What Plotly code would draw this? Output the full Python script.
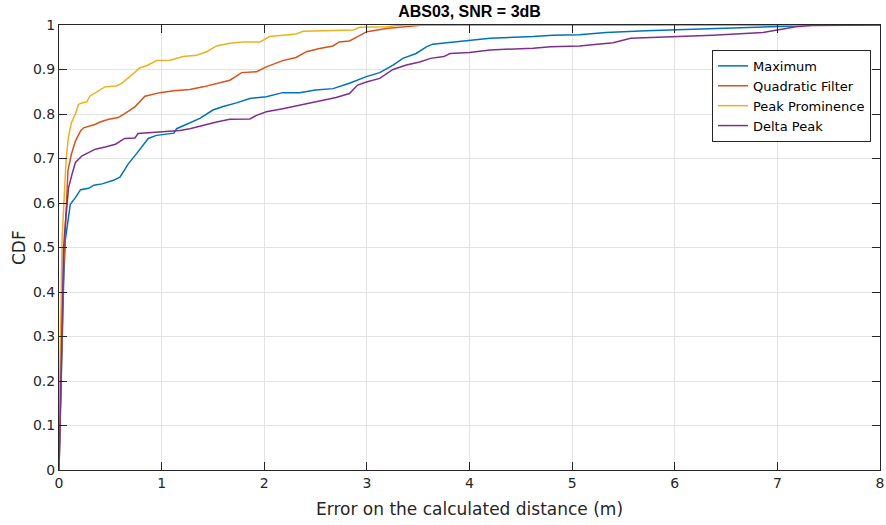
import plotly.graph_objects as go

# ---- data ----
max_x = [0, 0.02, 0.045, 0.061, 0.093, 0.11, 0.16, 0.21, 0.29, 0.34, 0.42, 0.53, 0.594, 0.626, 0.675,
         0.756, 0.805, 0.87, 0.95, 1.12, 1.146, 1.243, 1.373, 1.50, 1.60, 1.73, 1.86, 2.02, 2.18, 2.345,
         2.50, 2.67, 2.83, 2.995, 3.125, 3.255, 3.35, 3.48, 3.58, 3.64, 3.77, 4.0, 4.2, 4.62, 4.81, 5.07,
         5.33, 5.72, 6.37, 7.02, 7.18, 7.3, 8]
max_y = [0, 0.2, 0.42, 0.516, 0.575, 0.597, 0.612, 0.63, 0.633, 0.64, 0.643, 0.651, 0.658, 0.67, 0.688,
         0.711, 0.726, 0.745, 0.752, 0.757, 0.767, 0.777, 0.79, 0.809, 0.817, 0.825, 0.835, 0.839, 0.848, 0.848,
         0.854, 0.857, 0.869, 0.884, 0.893, 0.91, 0.925, 0.936, 0.951, 0.957, 0.96, 0.965, 0.97, 0.974, 0.977, 0.978,
         0.983, 0.987, 0.992, 0.996, 0.998, 1, 1]

quad_x = [0, 0.02, 0.045, 0.061, 0.087, 0.12, 0.16, 0.21, 0.24, 0.355, 0.40, 0.485, 0.577, 0.64, 0.74,
          0.837, 0.983, 1.12, 1.275, 1.405, 1.535, 1.665, 1.78, 1.925, 2.02, 2.18, 2.31, 2.41, 2.54, 2.67,
          2.73, 2.83, 2.91, 3.0, 3.19, 3.45, 3.55, 8]
quad_y = [0, 0.2, 0.45, 0.537, 0.672, 0.709, 0.739, 0.762, 0.769, 0.777, 0.782, 0.788, 0.792, 0.801, 0.816,
          0.84, 0.848, 0.852, 0.855, 0.861, 0.869, 0.876, 0.893, 0.895, 0.906, 0.92, 0.927, 0.94, 0.947, 0.953,
          0.962, 0.964, 0.974, 0.985, 0.992, 0.998, 1, 1]

prom_x = [0, 0, 0.03, 0.05, 0.07, 0.093, 0.12, 0.16, 0.19, 0.24, 0.27, 0.30, 0.38, 0.447, 0.56, 0.61, 0.69, 0.79,
          0.85, 0.95, 1.08, 1.21, 1.34, 1.44, 1.535, 1.665, 1.795, 1.96, 2.05, 2.18, 2.31, 2.38, 2.87, 2.93,
          3.19, 3.35, 8]
prom_y = [0, 0.09, 0.52, 0.62, 0.7, 0.75, 0.78, 0.8, 0.822, 0.826, 0.827, 0.84, 0.852, 0.861, 0.863, 0.869, 0.884,
          0.904, 0.908, 0.92, 0.921, 0.929, 0.932, 0.94, 0.953, 0.959, 0.962, 0.962, 0.974, 0.977, 0.98, 0.986,
          0.989, 0.995, 0.996, 1, 1]

delta_x = [0, 0.02, 0.045, 0.061, 0.093, 0.126, 0.16, 0.225, 0.29, 0.355, 0.45, 0.55, 0.64, 0.74, 0.77,
           0.886, 1.016, 1.178, 1.275, 1.405, 1.535, 1.665, 1.86, 1.925, 2.02, 2.18, 2.345, 2.58, 2.70, 2.83,
           2.91, 2.995, 3.125, 3.255, 3.385, 3.515, 3.62, 3.75, 3.81, 4.0, 4.2, 4.62, 4.79, 5.07, 5.4, 5.57,
           6.05, 6.37, 6.86, 7.02, 7.18, 7.34, 8]
delta_y = [0, 0.22, 0.5, 0.552, 0.634, 0.664, 0.691, 0.706, 0.713, 0.721, 0.726, 0.732, 0.745, 0.746, 0.756,
           0.758, 0.761, 0.763, 0.767, 0.775, 0.782, 0.788, 0.789, 0.797, 0.805, 0.812, 0.82, 0.831, 0.837, 0.846,
           0.865, 0.872, 0.88, 0.9, 0.91, 0.917, 0.925, 0.929, 0.936, 0.938, 0.944, 0.948, 0.951, 0.953, 0.96, 0.97,
           0.974, 0.977, 0.983, 0.99, 0.996, 0.999, 1]

series_names = ["Maximum", "Quadratic Filter", "Peak Prominence", "Delta Peak"]
series_colors = ["#0072BD", "#D95319", "#EDB120", "#7E2F8E"]
series_x = [max_x, quad_x, prom_x, delta_x]
series_y = [max_y, quad_y, prom_y, delta_y]

x_ticks = [0, 1, 2, 3, 4, 5, 6, 7, 8]
y_ticks = [0, 0.1, 0.2, 0.3, 0.4, 0.5, 0.6, 0.7, 0.8, 0.9, 1]
y_tick_labels = ["0", "0.1", "0.2", "0.3", "0.4", "0.5", "0.6", "0.7", "0.8", "0.9", "1"]

x_title = "Error on the calculated distance (m)"
y_title = "CDF"

fig = go.Figure()
for name, color, xs, ys in zip(series_names, series_colors, series_x, series_y):
    fig.add_trace(go.Scatter(x=xs, y=ys, mode="lines", name=name,
                             line=dict(color=color, width=1.5)))

axis_common = dict(
    showline=True, linecolor="#262626", linewidth=1, mirror="ticks",
    ticks="inside", ticklen=8, tickcolor="#262626", tickwidth=1,
    showgrid=True, gridcolor="#e3e3e3", gridwidth=1, zeroline=False,
    automargin=False,
    tickfont=dict(family="DejaVu Sans", size=14, color="#262626"),
)

fig.update_layout(
    width=886, height=525,
    margin=dict(l=59, r=6, t=25, b=55, autoexpand=False),
    paper_bgcolor="white", plot_bgcolor="white",
    font=dict(family="DejaVu Sans", size=14, color="#262626"),
    title=dict(text="<b>ABS03, SNR = 3dB</b>", x=0.5, xref="paper", xanchor="center",
               y=1 - 11 / 525, yref="container", yanchor="middle",
               font=dict(family="Liberation Sans", size=16, color="#000000")),
    xaxis=dict(range=[0, 8], tickvals=x_ticks, ticktext=[str(v) for v in x_ticks], **axis_common),
    yaxis=dict(range=[0, 1], tickvals=y_ticks, ticktext=y_tick_labels, **axis_common),
    legend=dict(x=0.989, xanchor="right", y=0.944, yanchor="top",
                bgcolor="white", bordercolor="#262626", borderwidth=1,
                font=dict(family="DejaVu Sans", size=13, color="#000000"),
                itemwidth=30, tracegroupgap=0),
    showlegend=True,
)

fig.add_annotation(text=x_title, xref="paper", yref="paper", x=0.5, y=-39 / 445,
                   xanchor="center", yanchor="middle", showarrow=False,
                   font=dict(family="DejaVu Sans", size=17, color="#262626"))
fig.add_annotation(text=y_title, xref="paper", yref="paper", x=-40.5 / 821, y=0.5,
                   xanchor="center", yanchor="middle", showarrow=False, textangle=-90,
                   font=dict(family="DejaVu Sans", size=17, color="#262626"))

fig.write_html("out.html", config={"displayModeBar": False},
               post_script="document.body.style.margin='0';document.body.style.padding='0';")
